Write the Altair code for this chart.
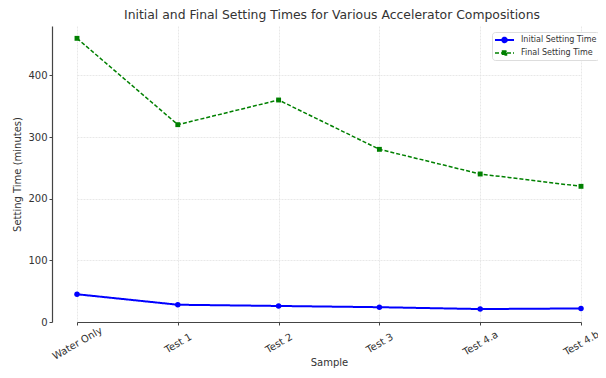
import altair as alt
import pandas as pd

samples = ["Water Only", "Test 1", "Test 2", "Test 3", "Test 4.a", "Test 4.b"]
initial = [45, 28, 26, 24, 21, 22]
final = [460, 320, 360, 280, 240, 220]
series = ["Initial Setting Time", "Final Setting Time"]

rows = []
for s, v in zip(samples, initial):
    rows.append({"Sample": s, "Time": v, "Series": series[0]})
for s, v in zip(samples, final):
    rows.append({"Sample": s, "Time": v, "Series": series[1]})
df = pd.DataFrame(rows)

circle_path = "M-1,0H2.8M1.35,0A0.45,0.45 0 1,0 0.45,0A0.45,0.45 0 1,0 1.35,0Z"
square_path = "M-1,0H2.8M0.5,-0.4H1.3V0.4H0.5Z"
shape_expr = "datum.value == '%s' ? '%s' : '%s'" % (series[0], circle_path, square_path)

cscale = alt.Scale(domain=series, range=["#0000ff", "#008000"])
legend = alt.Legend(title=None, orient="none", legendX=440, legendY=6,
                    fillColor="white", strokeColor="#dddddd", cornerRadius=3, padding=2,
                    labelFontSize=8, labelColor="#333333", symbolSize=100,
                    symbolType=alt.ExprRef(expr=shape_expr), symbolStrokeWidth=1.5,
                    symbolFillColor=alt.ExprRef(expr="scale('color', datum.value)"),
                    labelOffset=15, rowPadding=0, labelFont="DejaVu Sans")
color = alt.Color("Series:N", scale=cscale, legend=legend)
dash = alt.StrokeDash("Series:N", scale=alt.Scale(domain=series, range=[[1, 0], [4, 2]]), legend=legend)
width = alt.StrokeWidth("Series:N", scale=alt.Scale(domain=series, range=[2, 1.5]), legend=None)

x = alt.X("Sample:N", sort=samples, scale=alt.Scale(type="point", range=[25, 529], padding=0),
          axis=alt.Axis(title="Sample", labelAngle=-30, labelAlign="center", labelBaseline="middle",
                        labelFontSize=10, titleFontSize=10, grid=True, titlePadding=-4,
                        labelPadding=18))
y = alt.Y("Time:Q", scale=alt.Scale(domain=[0, 480], nice=False),
          axis=alt.Axis(title="Setting Time (minutes)", values=[0, 100, 200, 300, 400],
                        labelFontSize=10, titleFontSize=10, grid=True, titlePadding=5,
                        labelPadding=2))

base = alt.Chart(df)
lines = base.mark_line().encode(x=x, y=y, color=color, strokeDash=dash, strokeWidth=width,
                                detail="Series:N")
pts_initial = base.transform_filter(alt.datum.Series == series[0]).mark_point(
    filled=True, opacity=1, size=30, shape="circle", color="#0000ff").encode(x=x, y=y)
pts_final = base.transform_filter(alt.datum.Series == series[1]).mark_point(
    filled=True, opacity=1, size=24, shape="square", color="#008000").encode(x=x, y=y)

chart = alt.layer(lines, pts_initial, pts_final).properties(
    width=546, height=296,
    title=alt.TitleParams("Initial and Final Setting Times for Various Accelerator Compositions",
                          fontSize=12.4, fontWeight="normal", color="#333333", font="DejaVu Sans",
                          anchor="middle", offset=5, dx=7),
    autosize=alt.AutoSizeParams(type="none"),
    padding={"left": 44, "top": 18, "right": 0, "bottom": 48},
).configure_axis(
    labelFont="DejaVu Sans", titleFont="DejaVu Sans", labelColor="#333333", titleColor="#333333",
    titleFontWeight="normal", gridColor="#e2e2e2", gridWidth=0.8, gridDash=[2, 1],
    domainColor="#444444", domainWidth=1.2, tickColor="#444444", tickSize=3
).configure_view(stroke=None)

chart.save("out.html", embed_options={"renderer": "svg", "actions": False})
